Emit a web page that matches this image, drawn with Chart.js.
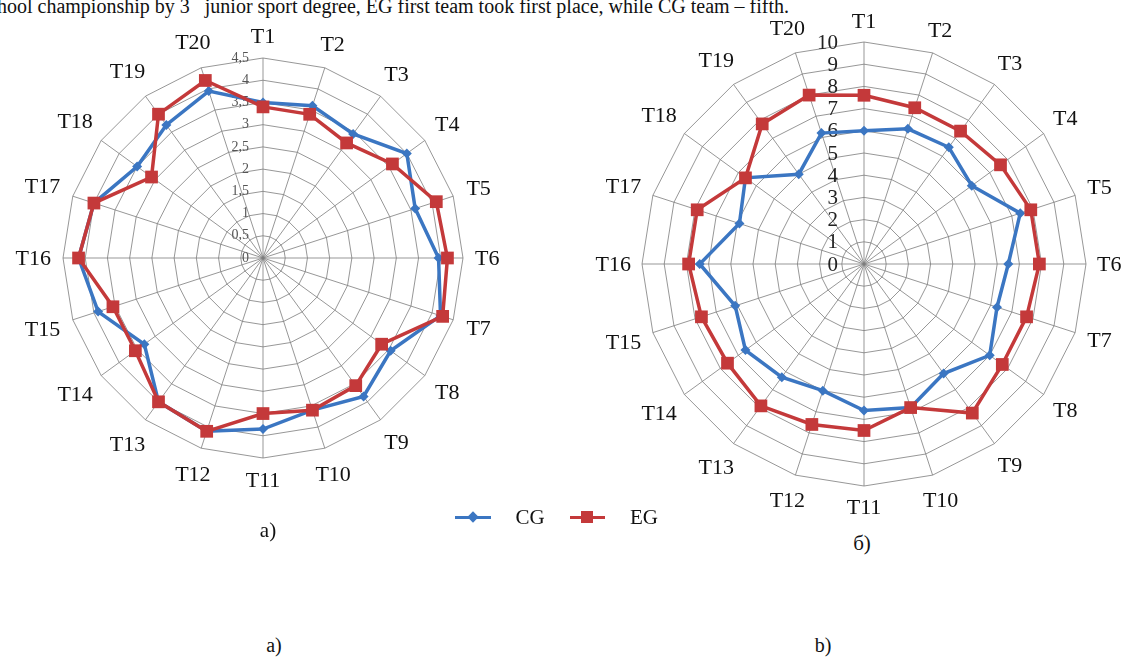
<!DOCTYPE html>
<html>
<head>
<meta charset="utf-8">
<script src="https://cdn.jsdelivr.net/npm/chart.js@4.4.0/dist/chart.umd.min.js"></script>
<style>
  body { margin: 0; background: #fff; width: 1131px; height: 657px; overflow: hidden; position: relative;
         font-family: "Liberation Serif", "Times New Roman", serif; color: #111; }
  .txt { position: absolute; white-space: nowrap; transform: translate(-50%, -50%); }
  #topline { position: absolute; left: -3px; top: -7px; font-size: 20px; line-height: 20px; white-space: nowrap; }
  #topline sup { font-size: 12px; vertical-align: 16px; line-height: 0; }
  canvas { position: absolute; }
  .lg-line { position: absolute; height: 3px; }
  .lg-mark { position: absolute; }
</style>
</head>
<body>
<div id="topline">hool championship by 3<sup>rd</sup> junior sport degree, EG first team took first place, while CG team – fifth.</div>

<canvas id="chartA" width="526" height="516" style="left:0;top:0"></canvas>
<canvas id="chartB" width="551" height="528" style="left:580px;top:0"></canvas>

<!-- legend -->
<div class="lg-line" style="left:455px;top:516px;width:36px;background:#3b76c2"></div>
<div class="lg-mark" style="left:469px;top:513px;width:8px;height:8px;background:#3b76c2;transform:rotate(45deg)"></div>
<div class="txt" style="left:530px;top:517px;font-size:21px">CG</div>
<div class="lg-line" style="left:570px;top:516px;width:35px;background:#c4393a"></div>
<div class="lg-mark" style="left:581px;top:511px;width:12px;height:12px;background:#c4393a"></div>
<div class="txt" style="left:644px;top:517px;font-size:21px">EG</div>

<div class="txt" style="left:268px;top:530px;font-size:21px">а)</div>
<div class="txt" style="left:862px;top:543px;font-size:21px">б)</div>
<div class="txt" style="left:274px;top:645px;font-size:20px">a)</div>
<div class="txt" style="left:823px;top:645px;font-size:20px">b)</div>

<script>
// Data
const categories = ['T1','T2','T3','T4','T5','T6','T7','T8','T9','T10',
                    'T11','T12','T13','T14','T15','T16','T17','T18','T19','T20'];

// chart a)
const cgA = [3.5, 3.6, 3.45, 4.0, 3.6, 3.95, 4.2, 3.55, 3.85, 3.6,
             3.85, 4.1, 4.0, 3.3, 3.9, 4.15, 4.0, 3.5, 3.7, 3.95];
const egA = [3.4, 3.4, 3.2, 3.6, 4.1, 4.15, 4.25, 3.3, 3.55, 3.6,
             3.5, 4.1, 4.0, 3.55, 3.55, 4.15, 4.0, 3.1, 4.0, 4.2];
const ticksA = ['0','0,5','1','1,5','2','2,5','3','3,5','4','4,5'];

// chart б)
const cgB = [6.0, 6.4, 6.5, 6.0, 7.4, 6.5, 6.3, 7.0, 6.1, 6.8,
             6.6, 6.0, 6.3, 6.6, 6.1, 7.4, 5.9, 6.6, 5.0, 6.2];
const egB = [7.6, 7.4, 7.4, 7.6, 7.9, 7.9, 7.7, 7.7, 8.3, 6.8,
             7.5, 7.6, 7.9, 7.6, 7.7, 7.9, 7.9, 6.6, 7.8, 8.0];
const ticksB = ['0','1','2','3','4','5','6','7','8','9','10'];

const BLUE = '#3b76c2';
const RED = '#c4393a';
const GRID = 'rgba(125,125,125,0.8)';

// draws tick labels left of the T1 axis and point labels outside the ring
const radarText = {
    id: 'radarText',
    beforeDatasetsDraw(chart, args, opts) {
        const s = chart.scales.r;
        const ctx = chart.ctx;
        ctx.save();
        ctx.font = opts.tickFont;
        ctx.fillStyle = opts.tickColor;
        ctx.textAlign = 'right';
        ctx.textBaseline = 'middle';
        opts.ticks.forEach(t => {
            const v = parseFloat(t.replace(',', '.'));
            const r = s.getDistanceFromCenterForValue(v);
            ctx.fillText(t, s.xCenter - opts.tickGap, s.yCenter - r + opts.tickShift);
        });
        ctx.restore();
    },
    afterDraw(chart, args, opts) {
        const s = chart.scales.r;
        const ctx = chart.ctx;
        ctx.save();
        ctx.font = opts.labelFont;
        ctx.fillStyle = '#111';
        ctx.textAlign = 'center';
        ctx.textBaseline = 'middle';
        chart.data.labels.forEach((lab, i) => {
            const w = ctx.measureText(lab).width;
            const a = s.getIndexAngle(i);
            const d = s.drawingArea + opts.pad + Math.abs(Math.sin(a)) * w / 2 + Math.abs(Math.cos(a)) * opts.labelHeight / 2;
            const p = s.getPointPosition(i, d);
            ctx.fillText(lab, p.x, p.y + 1);
        });
        ctx.restore();
    }
};

function makeRadar(id, cg, eg, max, step, padding, textOpts) {
    const ctx = document.getElementById(id).getContext('2d');
    return new Chart(ctx, {
        type: 'radar',
        data: {
            labels: categories,
            datasets: [
                {
                    label: 'CG', data: cg, order: 1,
                    borderColor: BLUE, backgroundColor: BLUE, borderWidth: 3.5, fill: false,
                    pointStyle: 'rectRot', pointRadius: 5, pointBackgroundColor: BLUE, pointBorderColor: BLUE, pointBorderWidth: 0
                },
                {
                    label: 'EG', data: eg, order: 0,
                    borderColor: RED, backgroundColor: RED, borderWidth: 3.5, fill: false,
                    pointStyle: 'rect', pointRadius: 9, pointBackgroundColor: RED, pointBorderColor: RED, pointBorderWidth: 0
                }
            ]
        },
        options: {
            responsive: false,
            animation: false,
            layout: { padding: padding },
            scales: {
                r: {
                    min: 0, max: max,
                    ticks: { display: false, stepSize: step },
                    pointLabels: { display: false },
                    grid: { color: GRID, lineWidth: 1 },
                    angleLines: { color: GRID, lineWidth: 1 }
                }
            },
            plugins: {
                legend: { display: false },
                tooltip: { enabled: false },
                radarText: textOpts
            }
        },
        plugins: [radarText]
    });
}

makeRadar('chartA', cgA, egA, 4.5, 0.5, { left: 58, right: 58, top: 58, bottom: 58 }, {
    ticks: ticksA, tickFont: '14px "Liberation Serif"', tickColor: '#555', tickGap: 14, tickShift: 0,
    labelFont: '22px "Liberation Serif"', labelHeight: 20, pad: 12
});

makeRadar('chartB', cgB, egB, 10, 1, { left: 62, right: 45, top: 42, bottom: 42 }, {
    ticks: ticksB, tickFont: '21px "Liberation Serif"', tickColor: '#222', tickGap: 26, tickShift: 1,
    labelFont: '22px "Liberation Serif"', labelHeight: 20, pad: 11
});
</script>
</body>
</html>
